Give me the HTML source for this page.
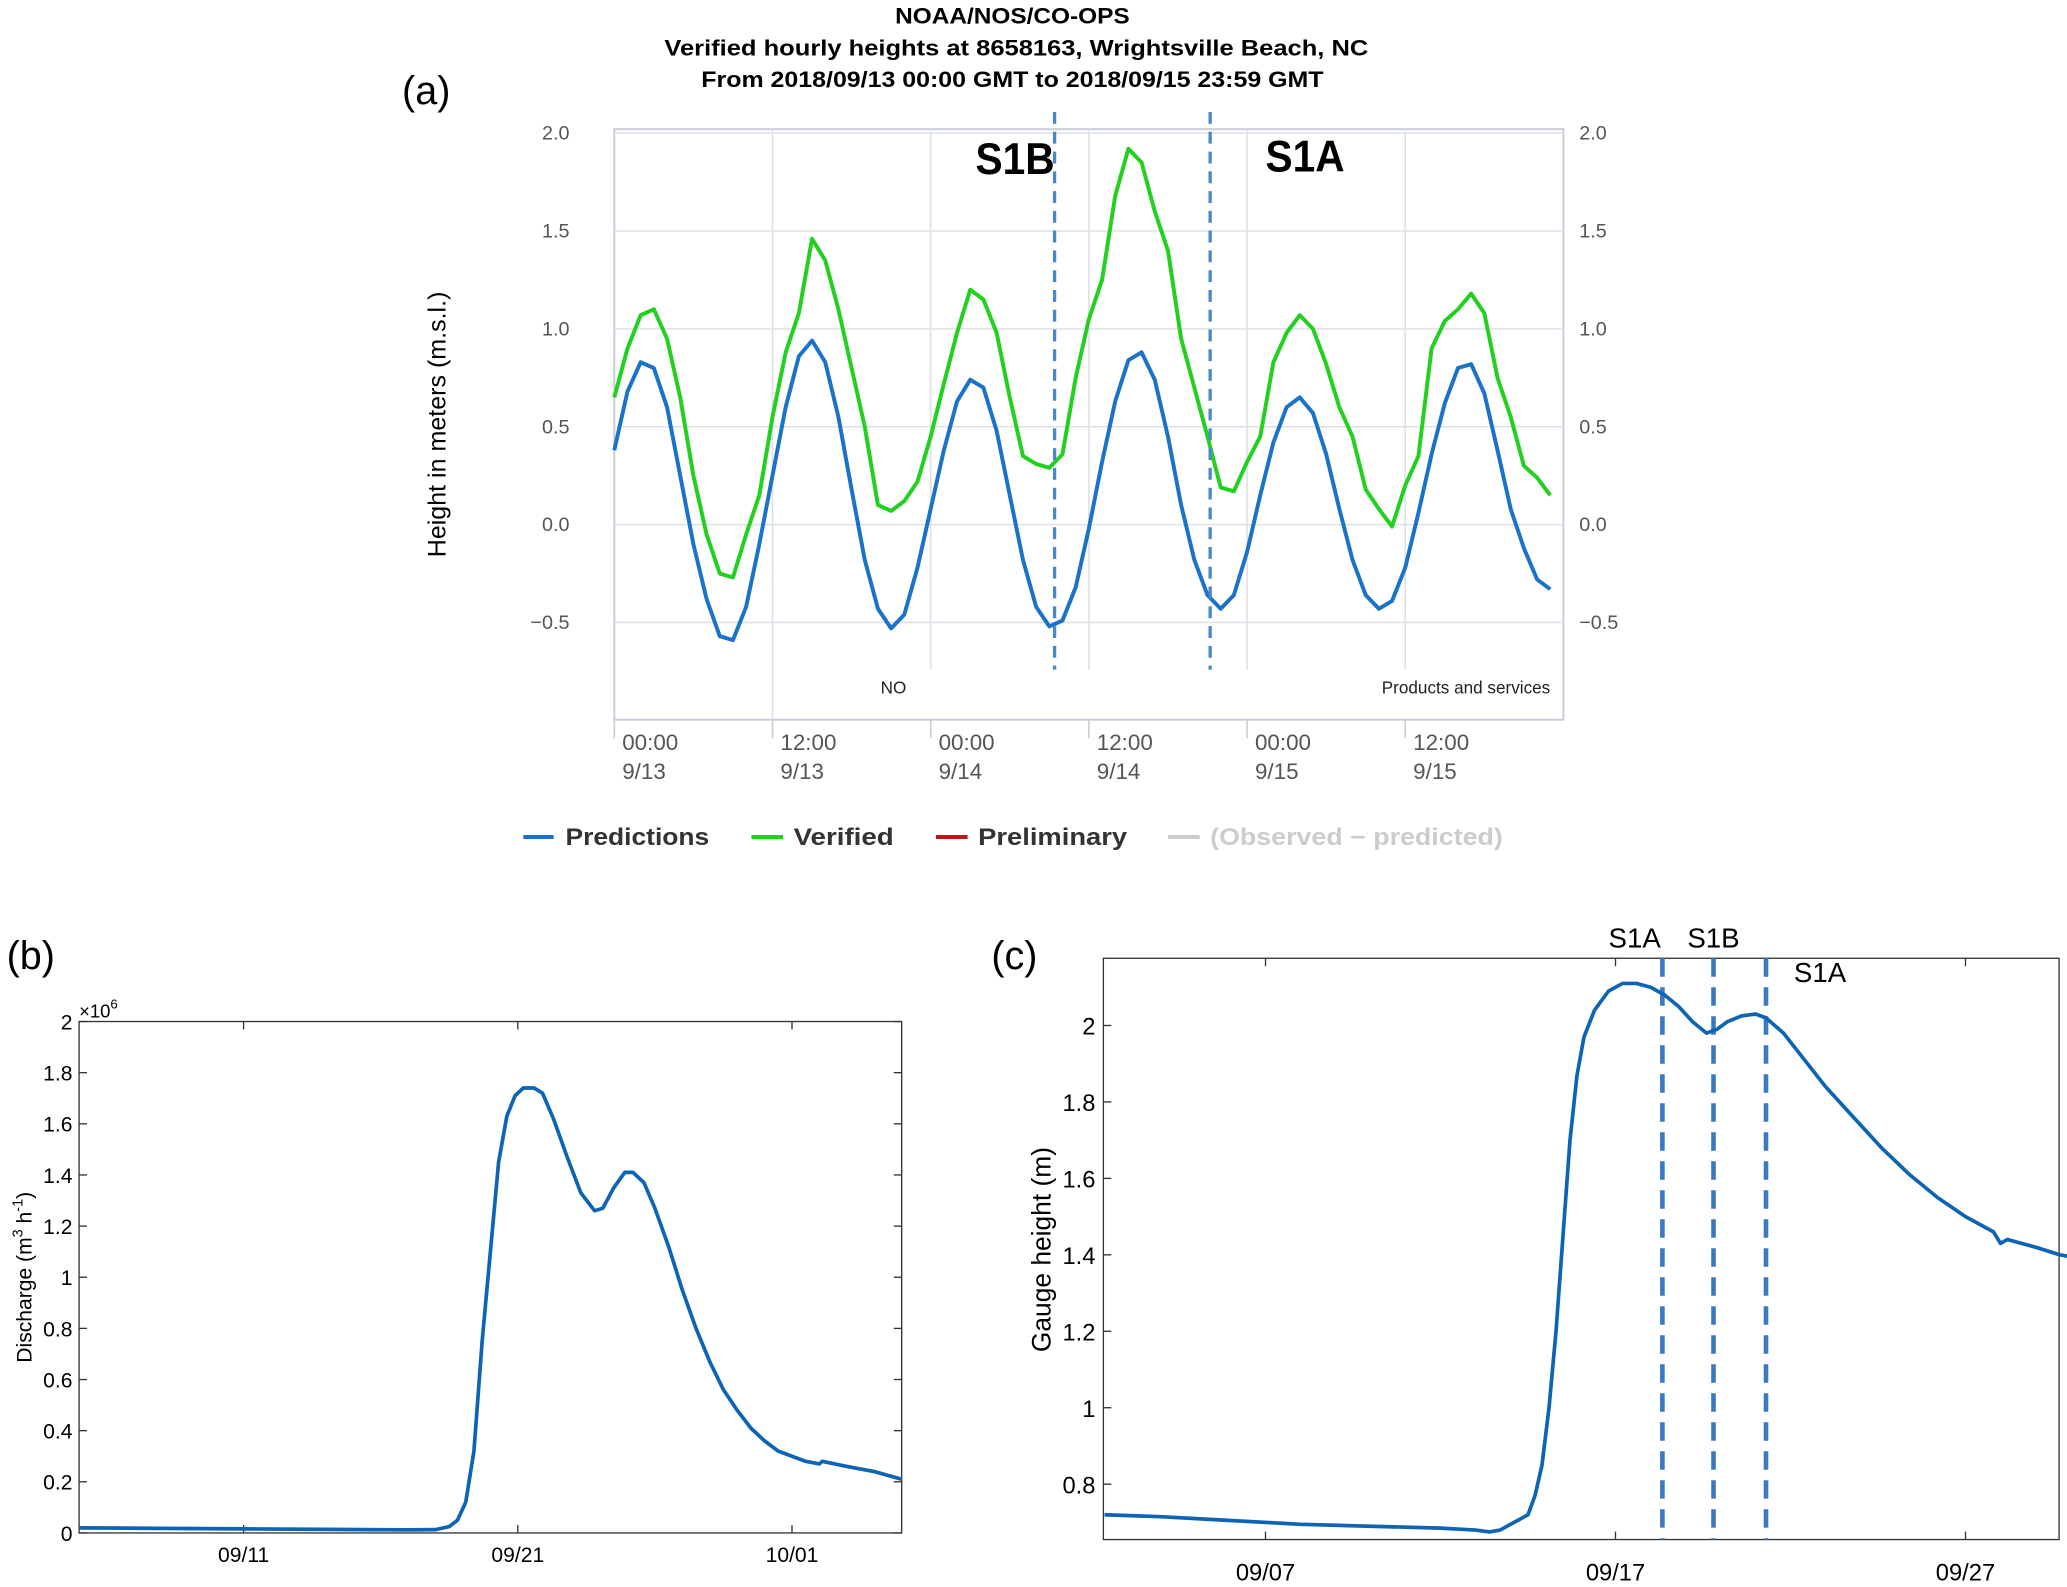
<!DOCTYPE html>
<html><head><meta charset="utf-8"><style>
html,body{margin:0;padding:0;background:#fff;}
svg{display:block;}
text{font-family:"Liberation Sans",sans-serif;}
</style></head><body>
<svg id="fig" width="2067" height="1587" viewBox="0 0 1568 1204" preserveAspectRatio="none" xmlns="http://www.w3.org/2000/svg">
<g id="pa">
<text x="679" y="18" textLength="178" lengthAdjust="spacingAndGlyphs" font-size="17" font-weight="bold">NOAA/NOS/CO-OPS</text>
<text x="504" y="42" textLength="534" lengthAdjust="spacingAndGlyphs" font-size="17" font-weight="bold">Verified hourly heights at 8658163, Wrightsville Beach, NC</text>
<text x="532" y="66" textLength="472" lengthAdjust="spacingAndGlyphs" font-size="17" font-weight="bold">From 2018/09/13 00:00 GMT to 2018/09/15 23:59 GMT</text>
<text x="305" y="79" font-size="30">(a)</text>
<text transform="translate(338,322) rotate(-90)" text-anchor="middle" font-size="19">Height in meters (m.s.l.)</text>
<rect x="466" y="98" width="720" height="448" fill="none" stroke="#c8ccd8" stroke-width="1.5"/>
<text x="668" y="526" font-size="13" fill="#222">NO</text>
<text x="1176" y="526" text-anchor="end" font-size="13" fill="#222">Products and services</text>
<text x="740" y="132" textLength="60" lengthAdjust="spacingAndGlyphs" font-size="34" font-weight="bold">S1B</text>
<text x="960" y="130" textLength="60" lengthAdjust="spacingAndGlyphs" font-size="34" font-weight="bold">S1A</text>
<g font-size="18" font-weight="bold">
<line x1="397" y1="635" x2="420" y2="635" stroke="#1a73c9" stroke-width="3"/><text x="429" y="641" textLength="109" lengthAdjust="spacingAndGlyphs" fill="#333">Predictions</text>
<line x1="570" y1="635" x2="594" y2="635" stroke="#22d11f" stroke-width="3"/><text x="602" y="641" textLength="76" lengthAdjust="spacingAndGlyphs" fill="#333">Verified</text>
<line x1="710" y1="635" x2="734" y2="635" stroke="#c41414" stroke-width="3"/><text x="742" y="641" textLength="113" lengthAdjust="spacingAndGlyphs" fill="#333">Preliminary</text>
<line x1="886" y1="635" x2="910" y2="635" stroke="#ccc" stroke-width="3"/><text x="918" y="641" textLength="222" lengthAdjust="spacingAndGlyphs" fill="#ccc">(Observed − predicted)</text>
</g>
</g>
<g id="pb">
<text x="5" y="735" font-size="30">(b)</text>
<rect x="60" y="775" width="624" height="388" fill="none" stroke="#333" stroke-width="1"/>
<text x="60" y="772" font-size="14">×10<tspan dy="-7" font-size="10">6</tspan></text>
<text transform="translate(24,969) rotate(-90)" text-anchor="middle" font-size="16">Discharge (m<tspan dy="-7" font-size="11">3</tspan><tspan dy="7"> h</tspan><tspan dy="-7" font-size="11">-1</tspan><tspan dy="7">)</tspan></text>
</g>
<g id="pc">
<text x="752" y="735" font-size="30">(c)</text>
<rect x="837" y="727" width="725" height="441" fill="none" stroke="#333" stroke-width="1"/>
<text transform="translate(797,948) rotate(-90)" text-anchor="middle" font-size="20">Gauge height (m)</text>
</g>
</svg>
<script>
// ---------- Panel (a) data ----------
const hoursA = [];
for (let i = 0; i < 72; i++) hoursA.push(i);
const predictionsA = [0.38,0.68,0.83,0.80,0.60,0.25,-0.10,-0.38,-0.57,-0.59,-0.42,-0.10,0.25,0.60,0.86,0.94,0.83,0.55,0.18,-0.18,-0.43,-0.53,-0.46,-0.22,0.08,0.38,0.63,0.74,0.70,0.48,0.15,-0.18,-0.42,-0.52,-0.49,-0.32,-0.02,0.32,0.63,0.84,0.88,0.74,0.45,0.10,-0.18,-0.36,-0.43,-0.36,-0.14,0.15,0.42,0.60,0.65,0.57,0.36,0.08,-0.18,-0.36,-0.43,-0.39,-0.22,0.06,0.36,0.62,0.80,0.82,0.67,0.38,0.08,-0.12,-0.28,-0.33];
const verifiedA = [0.65,0.90,1.07,1.10,0.95,0.65,0.25,-0.05,-0.25,-0.27,-0.05,0.15,0.55,0.88,1.08,1.46,1.35,1.10,0.80,0.50,0.10,0.07,0.12,0.22,0.45,0.72,0.98,1.20,1.15,0.98,0.65,0.35,0.31,0.29,0.36,0.75,1.05,1.25,1.68,1.92,1.85,1.60,1.40,0.95,0.70,0.45,0.19,0.17,0.32,0.45,0.83,0.98,1.07,1.00,0.82,0.60,0.45,0.18,0.08,-0.01,0.20,0.35,0.90,1.04,1.10,1.18,1.08,0.75,0.55,0.30,0.24,0.15];
const yTicksA = [2.0,1.5,1.0,0.5,0.0,-0.5];
const yTickLabelsA = ["2.0","1.5","1.0","0.5","0.0","\u22120.5"];
const xTicksA = [0,12,24,36,48,60];
const xTickTimesA = ["00:00","12:00","00:00","12:00","00:00","12:00"];
const xTickDatesA = ["9/13","9/13","9/14","9/14","9/15","9/15"];
const eventHoursA = [33.4,45.2];

// ---------- Panel (b) data (days since 09/05, discharge x1e6) ----------
const daysB = [0,3,6,9,12,13,13.5,13.8,14.1,14.4,14.7,15.0,15.3,15.6,15.9,16.2,16.6,16.9,17.3,17.8,18.3,18.8,19.1,19.5,19.9,20.2,20.6,21.0,21.5,22.0,22.5,23.0,23.5,24.0,24.5,25.0,25.5,26.0,26.5,27.0,27.1,28.0,29.0,30.0];
const dischargeB = [0.020,0.018,0.016,0.014,0.012,0.013,0.025,0.05,0.12,0.32,0.75,1.10,1.45,1.63,1.71,1.74,1.74,1.72,1.62,1.47,1.33,1.26,1.27,1.35,1.41,1.41,1.37,1.27,1.12,0.95,0.80,0.67,0.56,0.48,0.41,0.36,0.32,0.30,0.28,0.27,0.28,0.26,0.24,0.21];
const yTicksB = [0,0.2,0.4,0.6,0.8,1,1.2,1.4,1.6,1.8,2];
const yTickLabelsB = ["0","0.2","0.4","0.6","0.8","1","1.2","1.4","1.6","1.8","2"];
const xTicksB = [6,16,26];
const xTickLabelsB = ["09/11","09/21","10/01"];

// ---------- Panel (c) data (days since 09/01, gauge height m) ----------
const daysC = [2.4,4,6,8,10,12,13,13.4,13.7,13.9,14.3,14.5,14.7,14.9,15.1,15.3,15.5,15.7,15.9,16.1,16.4,16.8,17.2,17.6,18.0,18.4,18.8,19.2,19.6,19.9,20.2,20.6,21.0,21.3,21.8,22.4,23.0,23.8,24.6,25.4,26.2,27.0,27.8,28.0,28.2,29.0,29.7,30.0];
const gaugeC = [0.72,0.715,0.705,0.695,0.69,0.685,0.68,0.675,0.68,0.69,0.71,0.72,0.77,0.85,1.0,1.2,1.45,1.70,1.87,1.97,2.04,2.09,2.11,2.11,2.10,2.08,2.05,2.01,1.98,1.99,2.01,2.025,2.03,2.02,1.98,1.91,1.84,1.76,1.68,1.61,1.55,1.50,1.46,1.43,1.44,1.42,1.40,1.395];
const yTicksC = [0.8,1,1.2,1.4,1.6,1.8,2];
const yTickLabelsC = ["0.8","1","1.2","1.4","1.6","1.8","2"];
const xTicksC = [7,17,27];
const xTickLabelsC = ["09/07","09/17","09/27"];
const eventDaysC = [18.34,19.8,21.3];
const eventLabelsC = ["S1A","S1B","S1A"];

// ---------- helpers ----------
const NS = "http://www.w3.org/2000/svg";
function mk(parent, tag, attrs, txt) {
  const e = document.createElementNS(NS, tag);
  for (const k in attrs) e.setAttribute(k, attrs[k]);
  if (txt !== undefined) e.textContent = txt;
  parent.appendChild(e);
  return e;
}
function pathD(xs, ys, fx, fy) {
  return xs.map((x, i) => (i ? "L" : "M") + fx(x).toFixed(2) + "," + fy(ys[i]).toFixed(2)).join("");
}

// ---------- Panel (a) ----------
const pa = document.getElementById("pa");
const xA = h => 466 + h * 10;
const yA = v => 398 - v * 148.5;
yTicksA.forEach((v, i) => {
  const g = mk(pa, "line", {x1: 466, x2: 1186, y1: yA(v), y2: yA(v), stroke: "#dde0e8", "stroke-width": 1.2});
  
  
  const l = mk(pa, "text", {x: 432, y: yA(v) + 5, "text-anchor": "end", "font-size": 15, fill: "#555"}, yTickLabelsA[i]);
  
  
  const r = mk(pa, "text", {x: 1198, y: yA(v) + 5, "font-size": 15, fill: "#555"}, yTickLabelsA[i]);
  
  
});
xTicksA.forEach((h, i) => {
  if (i > 0) {
    const g = mk(pa, "line", {x1: xA(h), x2: xA(h), y1: 98, y2: i === 1 ? 546 : 508, stroke: "#dde0e8", "stroke-width": 1.2});
    
    
  }
  const t = mk(pa, "line", {x1: xA(h), x2: xA(h), y1: 546, y2: 560, stroke: "#c8ccd8", "stroke-width": 1.2});
  
  
  const l1 = mk(pa, "text", {x: xA(h) + 6, y: 569, "font-size": 17, fill: "#555"}, xTickTimesA[i]);
  
  
  const l2 = mk(pa, "text", {x: xA(h) + 6, y: 591, "font-size": 17, fill: "#555"}, xTickDatesA[i]);
  
  
});
const pv = mk(pa, "path", {d: pathD(hoursA, verifiedA, xA, yA), fill: "none", stroke: "#22d11f", "stroke-width": 3, "stroke-linejoin": "round"});


const pp = mk(pa, "path", {d: pathD(hoursA, predictionsA, xA, yA), fill: "none", stroke: "#1a73c9", "stroke-width": 3, "stroke-linejoin": "round"});


eventHoursA.forEach(h => {
  const d = mk(pa, "line", {x1: xA(h), x2: xA(h), y1: 85, y2: 508, stroke: "#4a86c8", "stroke-width": 2.5, "stroke-dasharray": "9,6"});
  
  
});

// ---------- Panel (b) ----------
const pb = document.getElementById("pb");
const xB = d => 60 + d * 20.8;
const yB = v => 1163 - v * 194;
yTicksB.forEach((v, i) => {
  const t = mk(pb, "line", {x1: 60, x2: 66, y1: yB(v), y2: yB(v), stroke: "#333"});
  
  
  const t2 = mk(pb, "line", {x1: 678, x2: 684, y1: yB(v), y2: yB(v), stroke: "#333"});
  
  
  const l = mk(pb, "text", {x: 55, y: yB(v) + 6, "text-anchor": "end", "font-size": 16}, yTickLabelsB[i]);
  
  
});
xTicksB.forEach((d, i) => {
  const t = mk(pb, "line", {x1: xB(d), x2: xB(d), y1: 1157, y2: 1163, stroke: "#333"});
  
  
  const t2 = mk(pb, "line", {x1: xB(d), x2: xB(d), y1: 775, y2: 781, stroke: "#333"});
  
  
  const l = mk(pb, "text", {x: xB(d), y: 1185, "text-anchor": "middle", "font-size": 16}, xTickLabelsB[i]);
  
  
});
const lb = mk(pb, "path", {d: pathD(daysB, dischargeB, xB, yB), fill: "none", stroke: "#0e64b4", "stroke-width": 2.8, "stroke-linejoin": "round"});



// ---------- Panel (c) ----------
const pc = document.getElementById("pc");
const xC = d => 960 + (d - 7) * 26.55;
const yC = v => 1068 - (v - 1) * 290;
yTicksC.forEach((v, i) => {
  const t = mk(pc, "line", {x1: 837, x2: 843, y1: yC(v), y2: yC(v), stroke: "#333"});
  
  
  const l = mk(pc, "text", {x: 831, y: yC(v) + 7, "text-anchor": "end", "font-size": 18}, yTickLabelsC[i]);
  
  
});
xTicksC.forEach((d, i) => {
  const t = mk(pc, "line", {x1: xC(d), x2: xC(d), y1: 1162, y2: 1168, stroke: "#333"});
  
  
  const t2 = mk(pc, "line", {x1: xC(d), x2: xC(d), y1: 727, y2: 733, stroke: "#333"});
  
  
  const l = mk(pc, "text", {x: xC(d), y: 1199, "text-anchor": "middle", "font-size": 18}, xTickLabelsC[i]);
  
  
});
eventDaysC.forEach((d, i) => {
  const m = mk(pc, "line", {x1: xC(d), x2: xC(d), y1: 727, y2: 1168, stroke: "#3a78c0", "stroke-width": 3.5, "stroke-dasharray": "14,8"});
  
  
  const lx = i === 2 ? xC(d) + 41 : xC(d) - (i === 0 ? 21 : 0);
  const ly = i === 2 ? 745 : 719;
  const l = mk(pc, "text", {x: lx, y: ly, "text-anchor": "middle", "font-size": 21, "font-family": "Liberation Serif, serif"}, eventLabelsC[i]);
  
  
});
const lc = mk(pc, "path", {d: pathD(daysC, gaugeC, xC, yC), fill: "none", stroke: "#0e64b4", "stroke-width": 2.8, "stroke-linejoin": "round"});


</script>
</body></html>
